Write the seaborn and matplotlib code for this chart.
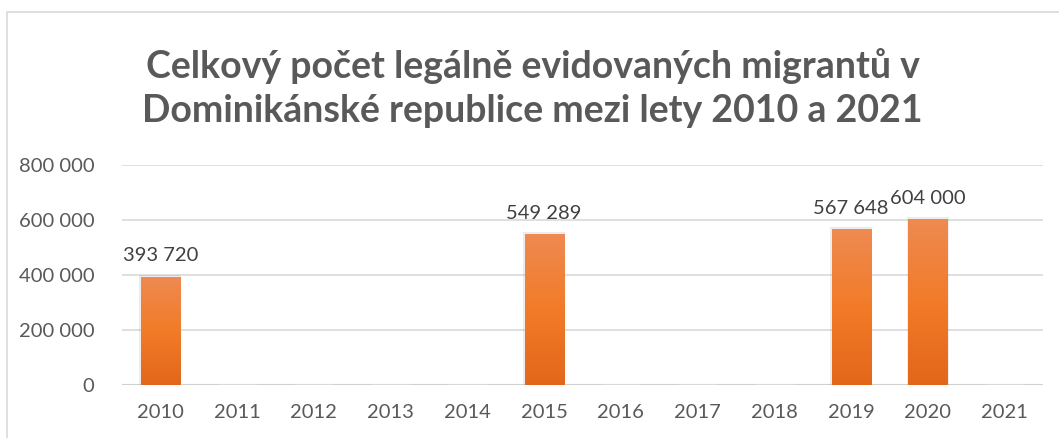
import numpy as np
import pandas as pd
import seaborn as sns
import matplotlib.pyplot as plt
from matplotlib.patches import Rectangle
from matplotlib.colors import LinearSegmentedColormap

years = ['2010', '2011', '2012', '2013', '2014', '2015', '2016', '2017', '2018', '2019', '2020', '2021']
migrants = [393720, 0, 0, 0, 0, 549289, 0, 0, 0, 567648, 604000, 0]
y_ticks = [0, 200000, 400000, 600000, 800000]

df = pd.DataFrame({'Rok': years, 'Migranti': migrants})

sns.set_style('white')
plt.rcParams['font.family'] = ['Lato', 'DejaVu Sans']

fig = plt.figure(figsize=(10.59, 4.38), dpi=100)
ax = fig.add_axes([122 / 1059, 1 - 385 / 438, (1043 - 122) / 1059, 220 / 438])

sns.barplot(data=df, x='Rok', y='Migranti', color='#F07F2E', width=0.51, ax=ax, zorder=3)

# gradient fill inside the bars
cmap = LinearSegmentedColormap.from_list('og', ['#E3671A', '#F27B28', '#EE8A52'])
grad = np.linspace(0, 1, 256).reshape(-1, 1)
for bar in ax.patches:
    h = bar.get_height()
    if h <= 0:
        continue
    x0 = bar.get_x()
    w = bar.get_width()
    # faint shadow
    ax.add_patch(Rectangle((x0 - 0.02, 0), w + 0.04, h + 6000, color='#000000', alpha=0.08, zorder=2, lw=0))
    img = ax.imshow(grad, cmap=cmap, aspect='auto', origin='lower',
                    extent=(x0, x0 + w, 0, h), zorder=4)
    img.set_clip_path(bar)
    ax.text(x0 + w / 2, h + 45000, f'{h:,.0f}'.replace(',', ' '), ha='center', va='bottom',
            fontsize=14.5, color='#404040', zorder=5)

ax.set_xlim(-0.5, len(years) - 0.5)
ax.set_ylim(0, 800000)
ax.set_yticks(y_ticks)
ax.set_yticklabels([f'{v:,}'.replace(',', ' ') for v in y_ticks])
ax.yaxis.grid(True, color='#D9D9D9', lw=1.2, zorder=0)
ax.set_axisbelow(True)
for s in ax.spines.values():
    s.set_visible(False)
ax.axhline(0, color='#D0D0D0', lw=1.5, zorder=1)
ax.tick_params(axis='both', length=0, labelsize=14.5, labelcolor='#595959')
ax.tick_params(axis='x', pad=14)
ax.tick_params(axis='y', pad=20)
ax.set_xlabel('')
ax.set_ylabel('')

fig.text(0.503, 1 - 88 / 438, 'Celkový počet legálně evidovaných migrantů v\nDominikánské republice mezi lety 2010 a 2021',
         ha='center', va='center', fontsize=27, fontweight='bold', color='#595959', linespacing=1.35)

fig.patches.append(Rectangle((7 / 1059, -0.1), 1.2, 1.1 - 12 / 438, transform=fig.transFigure,
                             fill=False, edgecolor='#D9D9D9', lw=1.2))

fig.savefig('out.png', dpi=100)
